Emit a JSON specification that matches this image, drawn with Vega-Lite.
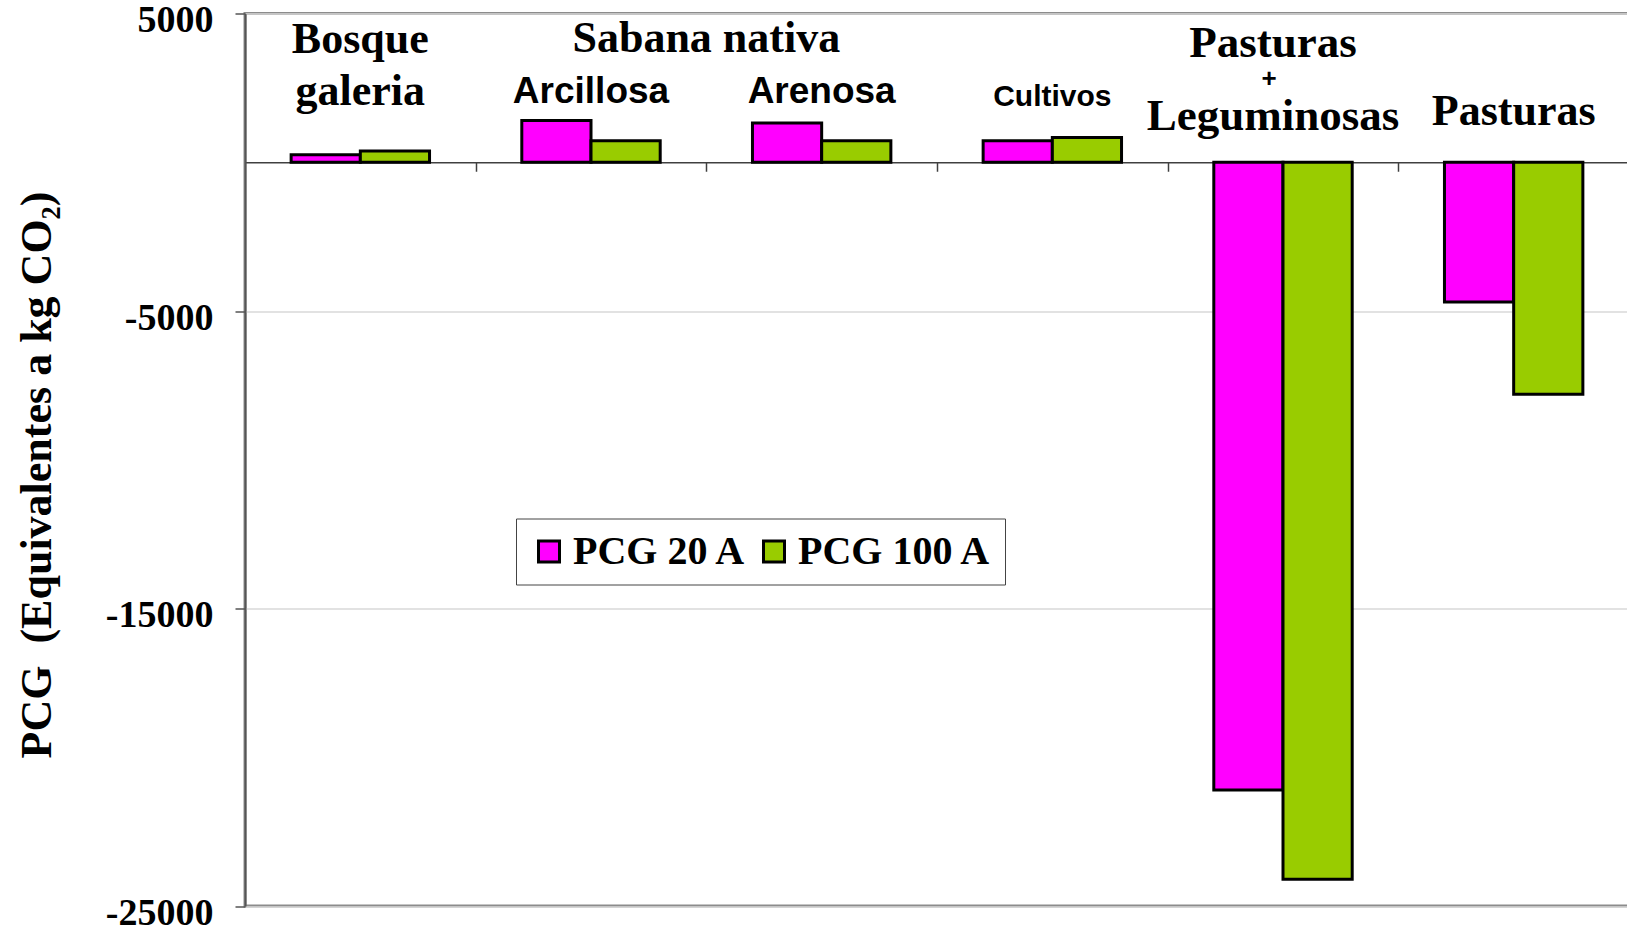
{
  "$schema": "https://vega.github.io/schema/vega-lite/v6.json",
  "width": 1384,
  "height": 892.5,
  "autosize": {"type": "none"},
  "padding": {"left": 245, "top": 13.5, "right": 0, "bottom": 25},
  "background": "white",
  "view": {"stroke": "#8c8c8c", "strokeWidth": 3, "fill": "white"},
  "datasets": {
    "barras": [
      {"grupo": "Bosque galeria", "serie": "PCG 20 A", "valor": 250},
      {"grupo": "Bosque galeria", "serie": "PCG 100 A", "valor": 380},
      {"grupo": "Arcillosa", "serie": "PCG 20 A", "valor": 1400},
      {"grupo": "Arcillosa", "serie": "PCG 100 A", "valor": 720},
      {"grupo": "Arenosa", "serie": "PCG 20 A", "valor": 1320},
      {"grupo": "Arenosa", "serie": "PCG 100 A", "valor": 720},
      {"grupo": "Cultivos", "serie": "PCG 20 A", "valor": 720},
      {"grupo": "Cultivos", "serie": "PCG 100 A", "valor": 830},
      {"grupo": "Pasturas + Leguminosas", "serie": "PCG 20 A", "valor": -21100},
      {"grupo": "Pasturas + Leguminosas", "serie": "PCG 100 A", "valor": -24100},
      {"grupo": "Pasturas", "serie": "PCG 20 A", "valor": -4700},
      {"grupo": "Pasturas", "serie": "PCG 100 A", "valor": -7800}
    ],
    "etiquetas": [
      {"grupo": "Bosque galeria", "texto": "Bosque", "valor": 3665, "tipo": "serif"},
      {"grupo": "Bosque galeria", "texto": "galeria", "valor": 1920, "tipo": "serif"},
      {"grupo": "Arcillosa", "texto": "Sabana nativa", "valor": 3690, "tipo": "span"},
      {"grupo": "Arcillosa", "texto": "Arcillosa", "valor": 2000, "tipo": "sans"},
      {"grupo": "Arenosa", "texto": "Arenosa", "valor": 2000, "tipo": "sans"},
      {"grupo": "Cultivos", "texto": "Cultivos", "valor": 1900, "tipo": "sansSmall"},
      {"grupo": "Pasturas + Leguminosas", "texto": "Pasturas", "valor": 3550, "tipo": "pl"},
      {"grupo": "Pasturas + Leguminosas", "texto": "+", "valor": 2540, "tipo": "plus"},
      {"grupo": "Pasturas + Leguminosas", "texto": "Leguminosas", "valor": 1085, "tipo": "pl"},
      {"grupo": "Pasturas", "texto": "Pasturas", "valor": 1250, "tipo": "serif"}
    ]
  },
  "encoding": {
    "x": {
      "field": "grupo",
      "type": "nominal",
      "sort": ["Bosque galeria", "Arcillosa", "Arenosa", "Cultivos", "Pasturas + Leguminosas", "Pasturas"],
      "scale": {"paddingInner": 0.4, "paddingOuter": 0.2},
      "axis": {
        "orient": "bottom",
        "offset": -743.75,
        "labels": false,
        "title": null,
        "grid": false,
        "ticks": true,
        "tickSize": 9,
        "tickWidth": 1.5,
        "tickColor": "#404040",
        "tickOffset": 115.33,
        "domainColor": "#404040",
        "domainWidth": 1.5
      }
    },
    "y": {
      "field": "valor",
      "type": "quantitative",
      "scale": {"domain": [-25000, 5000], "nice": false, "zero": false},
      "axis": {
        "values": [5000, -5000, -15000, -25000],
        "labelExpr": "datum.value + ''",
        "grid": true,
        "gridColor": "#d9d9d9",
        "gridWidth": 1.5,
        "domainColor": "#555555",
        "domainWidth": 2,
        "tickColor": "#555555",
        "tickWidth": 1.5,
        "tickSize": 10,
        "labelPadding": 22,
        "labelFont": "Liberation Serif",
        "labelFontWeight": "bold",
        "labelFontSize": 38,
        "labelColor": "black",
        "labelOffset": 7,
        "labelBound": false,
        "title": "PCG\u00a0 (Equivalentes a kg CO\u2082)",
        "titleFont": "Liberation Serif",
        "titleFontWeight": "bold",
        "titleFontSize": 44,
        "titleColor": "black",
        "titleAngle": 270,
        "titleAlign": "center",
        "titleBaseline": "alphabetic",
        "titleX": -195,
        "titleY": 461
      }
    }
  },
  "layer": [
    {
      "data": {"name": "barras"},
      "mark": {"type": "bar", "stroke": "black", "strokeWidth": 3},
      "encoding": {
        "xOffset": {
          "field": "serie",
          "type": "nominal",
          "sort": ["PCG 20 A", "PCG 100 A"],
          "scale": {"paddingInner": 0, "paddingOuter": 0}
        },
        "color": {
          "field": "serie",
          "type": "nominal",
          "sort": ["PCG 20 A", "PCG 100 A"],
          "scale": {"domain": ["PCG 20 A", "PCG 100 A"], "range": ["#ff00ff", "#99cc00"]},
          "legend": {
            "title": null,
            "orient": "none",
            "legendX": 271,
            "legendY": 505,
            "direction": "horizontal",
            "fillColor": "white",
            "strokeColor": "#444444",
            "padding": 13,
            "symbolType": "square",
            "symbolSize": 441,
            "symbolStrokeColor": "black",
            "symbolStrokeWidth": 3,
            "symbolOpacity": 1,
            "labelFont": "Liberation Serif",
            "labelFontWeight": "bold",
            "labelFontSize": 40,
            "labelColor": "black",
            "labelOffset": 4,
            "labelLimit": 400,
            "columnPadding": 7
          }
        }
      }
    },
    {
      "data": {"name": "etiquetas"},
      "transform": [{"filter": "datum.tipo == 'serif'"}],
      "mark": {"type": "text", "font": "Liberation Serif", "fontWeight": "bold", "fontSize": 44, "align": "center", "baseline": "alphabetic", "color": "black"},
      "encoding": {"text": {"field": "texto"}}
    },
    {
      "data": {"name": "etiquetas"},
      "transform": [{"filter": "datum.tipo == 'pl'"}],
      "mark": {"type": "text", "font": "Liberation Serif", "fontWeight": "bold", "fontSize": 45, "align": "center", "baseline": "alphabetic", "color": "black", "dx": -10},
      "encoding": {"text": {"field": "texto"}}
    },
    {
      "data": {"name": "etiquetas"},
      "transform": [{"filter": "datum.tipo == 'span'"}],
      "mark": {"type": "text", "font": "Liberation Serif", "fontWeight": "bold", "fontSize": 44, "align": "center", "baseline": "alphabetic", "color": "black", "dx": 115.33},
      "encoding": {"text": {"field": "texto"}}
    },
    {
      "data": {"name": "etiquetas"},
      "transform": [{"filter": "datum.tipo == 'sans'"}],
      "mark": {"type": "text", "font": "Liberation Sans", "fontWeight": "bold", "fontSize": 37, "align": "center", "baseline": "alphabetic", "color": "black"},
      "encoding": {"text": {"field": "texto"}}
    },
    {
      "data": {"name": "etiquetas"},
      "transform": [{"filter": "datum.tipo == 'sansSmall'"}],
      "mark": {"type": "text", "font": "Liberation Sans", "fontWeight": "bold", "fontSize": 30, "align": "center", "baseline": "alphabetic", "color": "black"},
      "encoding": {"text": {"field": "texto"}}
    },
    {
      "data": {"name": "etiquetas"},
      "transform": [{"filter": "datum.tipo == 'plus'"}],
      "mark": {"type": "text", "font": "Liberation Sans", "fontWeight": "bold", "fontSize": 26, "align": "center", "baseline": "alphabetic", "color": "black", "dx": -14},
      "encoding": {"text": {"field": "texto"}}
    }
  ]
}
